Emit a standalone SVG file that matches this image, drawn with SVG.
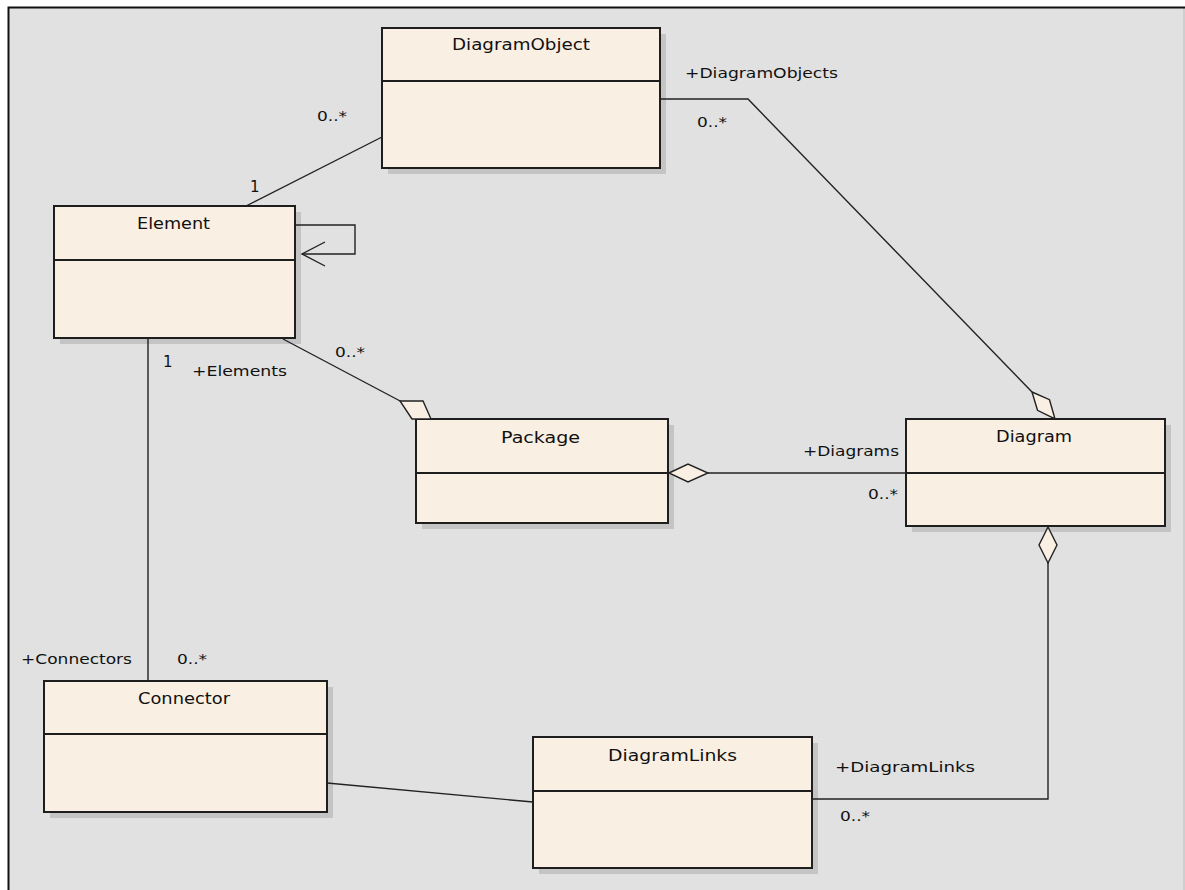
<svg xmlns="http://www.w3.org/2000/svg" width="1185" height="890" viewBox="0 0 1185 890">
<style>
.shadow{fill:#c4c4c4}
.box{fill:#f9efe2;stroke:#1e1e1e;stroke-width:2}
.div{stroke:#1e1e1e;stroke-width:2}
.title{font-family:"DejaVu Sans",sans-serif;font-size:15px;fill:#111;text-anchor:start}
.lbl{font-family:"DejaVu Sans",sans-serif;font-size:14px;fill:#111}
.one{font-family:"DejaVu Sans",sans-serif;font-size:15px;fill:#111}
.ln{fill:none;stroke:#222;stroke-width:1.4}
.dia{fill:#f9efe2;stroke:#222;stroke-width:1.4}
</style>
<rect x="0" y="0" width="1185" height="890" fill="#ffffff"/>
<rect x="8" y="7" width="1177" height="883" fill="#e1e1e1"/>
<line x1="1184" y1="7" x2="1184" y2="890" stroke="#bcbcbc" stroke-width="1"/>
<path d="M8.5 890 V7.5 H1185" fill="none" stroke="#111" stroke-width="2"/>

<g id="DiagramObject">
<rect class="shadow" x="388" y="34" width="278" height="140"/>
<rect class="box" x="382" y="28" width="278" height="140"/>
<line class="div" x1="382" y1="81" x2="660" y2="81"/>
<text class="title" x="452" y="50" textLength="138" lengthAdjust="spacingAndGlyphs">DiagramObject</text>
</g>

<g id="Element">
<rect class="shadow" x="60" y="212" width="241" height="132"/>
<rect class="box" x="54" y="206" width="241" height="132"/>
<line class="div" x1="54" y1="260" x2="295" y2="260"/>
<text class="title" x="137" y="229" textLength="73" lengthAdjust="spacingAndGlyphs">Element</text>
</g>

<g id="Package">
<rect class="shadow" x="422" y="425" width="252" height="104"/>
<rect class="box" x="416" y="419" width="252" height="104"/>
<line class="div" x1="416" y1="473" x2="668" y2="473"/>
<text class="title" x="501" y="443" textLength="79" lengthAdjust="spacingAndGlyphs">Package</text>
</g>

<g id="Diagram">
<rect class="shadow" x="912" y="425" width="259" height="107"/>
<rect class="box" x="906" y="419" width="259" height="107"/>
<line class="div" x1="906" y1="473" x2="1165" y2="473"/>
<text class="title" x="996" y="442" textLength="76" lengthAdjust="spacingAndGlyphs">Diagram</text>
</g>

<g id="Connector">
<rect class="shadow" x="50" y="687" width="283" height="131"/>
<rect class="box" x="44" y="681" width="283" height="131"/>
<line class="div" x1="44" y1="734" x2="327" y2="734"/>
<text class="title" x="138" y="704" textLength="92" lengthAdjust="spacingAndGlyphs">Connector</text>
</g>

<g id="DiagramLinks">
<rect class="shadow" x="539" y="743" width="279" height="131"/>
<rect class="box" x="533" y="737" width="279" height="131"/>
<line class="div" x1="533" y1="791" x2="812" y2="791"/>
<text class="title" x="608" y="761" textLength="129" lengthAdjust="spacingAndGlyphs">DiagramLinks</text>
</g>

<g id="connectors">
<line class="ln" x1="246" y1="206" x2="382" y2="137"/>
<polyline class="ln" points="295,225 355,225 355,254 302,254"/>
<polyline class="ln" points="325,242 302,254 325,266"/>
<line class="ln" x1="283" y1="339" x2="402" y2="402"/>
<polygon class="dia" points="400,401 423,401 431,419 412,419"/>
<polyline class="ln" points="660,99 748,99 1032,392"/>
<polygon class="dia" points="1032,392 1049.5,399.7 1055,419 1037.5,410.3"/>
<line class="ln" x1="708" y1="473" x2="906" y2="473"/>
<polygon class="dia" points="669,473 688,464 708,473 688,482"/>
<polyline class="ln" points="1048,563 1048,799 812,799"/>
<polygon class="dia" points="1048,527 1057,545 1048,563 1039,545"/>
<line class="ln" x1="148" y1="338" x2="148" y2="681"/>
<line class="ln" x1="327" y1="783" x2="533" y2="802"/>
</g>

<g id="labels">
<text class="lbl" x="317" y="121" textLength="30" lengthAdjust="spacingAndGlyphs">0..*</text>
<text class="one" x="250" y="192">1</text>
<text class="lbl" x="685" y="78" textLength="153" lengthAdjust="spacingAndGlyphs">+DiagramObjects</text>
<text class="lbl" x="697" y="127" textLength="30" lengthAdjust="spacingAndGlyphs">0..*</text>
<text class="lbl" x="335" y="357" textLength="30" lengthAdjust="spacingAndGlyphs">0..*</text>
<text class="one" x="163" y="367">1</text>
<text class="lbl" x="192" y="376" textLength="95" lengthAdjust="spacingAndGlyphs">+Elements</text>
<text class="lbl" x="803" y="456" textLength="96" lengthAdjust="spacingAndGlyphs">+Diagrams</text>
<text class="lbl" x="868" y="499" textLength="30" lengthAdjust="spacingAndGlyphs">0..*</text>
<text class="lbl" x="21" y="664" textLength="111" lengthAdjust="spacingAndGlyphs">+Connectors</text>
<text class="lbl" x="177" y="664" textLength="30" lengthAdjust="spacingAndGlyphs">0..*</text>
<text class="lbl" x="835" y="772" textLength="140" lengthAdjust="spacingAndGlyphs">+DiagramLinks</text>
<text class="lbl" x="840" y="821" textLength="30" lengthAdjust="spacingAndGlyphs">0..*</text>
</g>
</svg>
